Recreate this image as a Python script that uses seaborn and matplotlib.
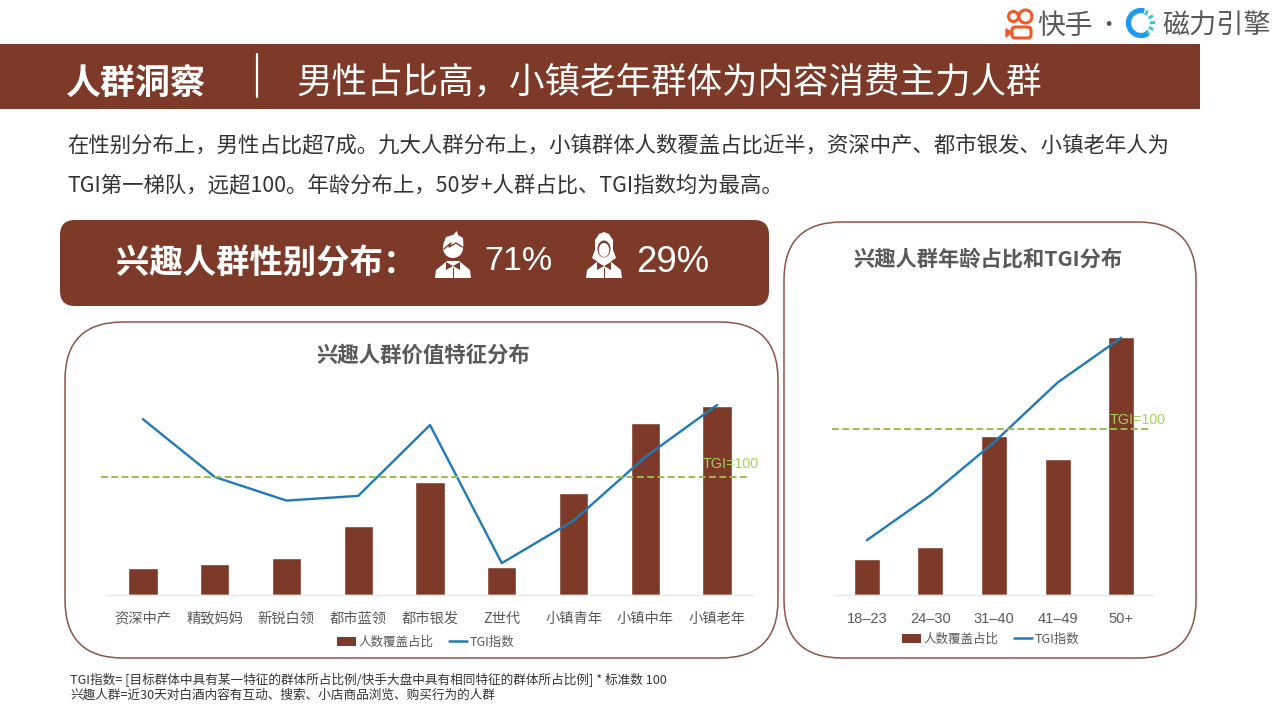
import numpy as np
import seaborn as sns
import matplotlib.pyplot as plt
from matplotlib.patches import FancyBboxPatch, Rectangle, Circle, Arc, Patch, Polygon, Ellipse
from matplotlib.lines import Line2D

# 数据
value_cats = ["资深中产", "精致妈妈", "新锐白领", "都市蓝领", "都市银发", "Z世代", "小镇青年", "小镇中年", "小镇老年"]
value_share = [3.5, 4.0, 4.8, 9.0, 14.7, 3.7, 13.3, 22.3, 24.5]
value_tgi = [149, 100, 80, 84, 144, 27, 63, 117, 161]

age_cats = ["18–23", "24–30", "31–40", "41–49", "50+"]
age_share = [5.7, 7.6, 24.9, 21.3, 40.5]
age_tgi = [33, 60, 92, 128, 155]

BROWN = "#7E3A29"
BLUE = "#1F7AB5"
GREEN = "#9DBB4F"
GREEN_TXT = "#A5D15C"
GRAY = "#595959"
CJK = ["Noto Sans CJK SC", "DejaVu Sans"]
LATIN = ["Liberation Sans", "Noto Sans CJK SC"]

sns.set_style("white")
plt.rcParams["font.family"] = CJK

W, H = 1280, 720
fig = plt.figure(figsize=(12.8, 7.2), dpi=100, facecolor="white")

# 背景层，用像素坐标
bg = fig.add_axes([0, 0, 1, 1])
bg.set_xlim(0, W)
bg.set_ylim(H, 0)
bg.axis("off")


def round_box(x0, y0, x1, y1, r, **kw):
    bg.add_patch(FancyBboxPatch((x0 + r, y0 + r), x1 - x0 - 2 * r, y1 - y0 - 2 * r,
                                boxstyle=f"round,pad={r},rounding_size={r}", **kw))


def person_body(cx):
    # 身体和领结
    bg.add_patch(Polygon([(cx - 18, 278), (cx - 17, 270), (cx - 6, 261), (cx + 6, 261), (cx + 17, 270), (cx + 18, 278)],
                         fc="white", ec="none"))
    bg.add_patch(Polygon([(cx - 7, 262), (cx, 266), (cx + 7, 262), (cx + 7, 270), (cx, 266), (cx - 7, 270)],
                         fc=BROWN, ec="none"))
    bg.plot([cx, cx], [268, 278], color=BROWN, lw=0.8)


# 顶部标题条
bg.add_patch(Rectangle((0, 44), 1200, 64.5, fc=BROWN, ec="none"))
bg.text(65, 83, "人群洞察", color="white", fontsize=25.2, fontweight="bold", va="center")
bg.plot([257, 257], [54, 97], color="white", lw=1.6)
bg.text(296, 83, "男性占比高，小镇老年群体为内容消费主力人群", color="white", fontsize=25.6, va="center")

# 说明文字
bg.text(67, 145, "在性别分布上，男性占比超7成。九大人群分布上，小镇群体人数覆盖占比近半，资深中产、都市银发、小镇老年人为",
        color="#333333", fontsize=15.4, va="center")
bg.text(67, 185, "TGI第一梯队，远超100。年龄分布上，50岁+人群占比、TGI指数均为最高。",
        color="#333333", fontsize=15.4, va="center")

# 性别分布条
round_box(60, 220, 769, 306, 15, fc=BROWN, ec="none")
bg.text(116, 264, "兴趣人群性别分布：", color="white", fontsize=24, fontweight="bold", va="center")
bg.text(484, 262, "71%", color="white", fontsize=24.5, va="center", family=LATIN)
bg.text(636, 262, "29%", color="white", fontsize=26.3, va="center", family=LATIN)

# 男性图标
bg.add_patch(Circle((453, 248), 10, fc="white", ec="none"))
bg.add_patch(Polygon([(443, 245), (446, 237), (453, 235), (457, 231), (458, 235), (463, 238), (463.5, 246)],
                     fc="white", ec="none"))
bg.plot([444, 451, 449, 456, 462], [249, 243, 247, 243, 247], color=BROWN, lw=1)
person_body(453)

# 女性图标
bg.add_patch(Polygon([(592, 258), (595, 250), (595, 240), (599, 234), (604, 232), (609, 234), (613, 240),
                      (613, 250), (616, 258), (610, 262), (598, 262)], fc="white", ec="none"))
bg.add_patch(Ellipse((604, 249), 13, 17, fc=BROWN, ec="none"))
bg.add_patch(Ellipse((604, 250), 10.5, 14, fc="white", ec="none"))
person_body(604)

# 两个圆角框
round_box(65, 322, 778, 658, 58, fc="white", ec="#8E5546", lw=1.1)
round_box(784, 222, 1196, 658, 58, fc="white", ec="#8E5546", lw=1.1)
bg.text(423.5, 355, "兴趣人群价值特征分布", color=GRAY, fontsize=15.4, fontweight="bold", ha="center", va="center")
bg.text(988, 259, "兴趣人群年龄占比和TGI分布", color=GRAY, fontsize=15.3, fontweight="bold", ha="center", va="center")

# 脚注
bg.text(70, 680, "TGI指数= [目标群体中具有某一特征的群体所占比例/快手大盘中具有相同特征的群体所占比例] * 标准数 100",
        color="#333333", fontsize=9.1, va="center")
bg.text(70, 695, "兴趣人群=近30天对白酒内容有互动、搜索、小店商品浏览、购买行为的人群",
        color="#333333", fontsize=9.1, va="center")

# 快手 logo
ORANGE = "#F0592A"
bg.add_patch(Circle((1013.5, 16.5), 5, fc="none", ec=ORANGE, lw=2.2))
bg.add_patch(Circle((1025.5, 16.5), 6.5, fc="none", ec=ORANGE, lw=2.2))
round_box(1012, 27, 1031, 38, 3, fc="none", ec=ORANGE, lw=2.2)
bg.add_patch(Polygon([(1012, 32), (1006, 29), (1006, 37)], fc=ORANGE, ec=ORANGE, lw=1))
bg.text(1037, 26, "快手", color=GRAY, fontsize=20, va="center")
bg.text(1108, 26, "·", color=GRAY, fontsize=16, ha="center", va="center")

# 磁力引擎 logo
bg.add_patch(Arc((1141, 23), 25, 25, theta1=55, theta2=285, color="#1E9BEF", lw=3.8))
for ang in [-62, -32, -2, 28, 55]:
    t = np.deg2rad(ang)
    bg.plot([1141 + 9 * np.cos(t), 1141 + 14 * np.cos(t)], [23 + 9 * np.sin(t), 23 + 14 * np.sin(t)],
            color="#35C4C9", lw=2, solid_capstyle="butt")
bg.text(1162, 26, "磁力引擎", color=GRAY, fontsize=19.5, va="center")


def combo_chart(left, right, top, bottom, cats, share, tgi, y_top, tgi_top, bar_w,
                line_x, label_x, label_y, legend_center, tick_family, tick_size):
    ax = fig.add_axes([left / W, 1 - bottom / H, (right - left) / W, (bottom - top) / H])
    ax.patch.set_alpha(0)
    sns.barplot(x=cats, y=share, color=BROWN, saturation=1, width=bar_w, ax=ax)
    ax.set_ylim(0, y_top)
    ax.set_xlim(-0.5, len(cats) - 0.5)
    ax.set_yticks([])
    ax.set_ylabel("")
    sns.despine(ax=ax, left=True)
    ax.spines["bottom"].set_color("#E6E6E6")
    ax.spines["bottom"].set_linewidth(1)
    ax.tick_params(axis="x", length=0, pad=12)
    for lab in ax.get_xticklabels():
        lab.set_color(GRAY)
        lab.set_fontsize(tick_size)
        lab.set_family(tick_family)

    tw = ax.twinx()
    tw.patch.set_alpha(0)
    sns.lineplot(x=np.arange(len(cats)), y=tgi, color=BLUE, lw=1.7, ax=tw)
    tw.set_ylim(0, tgi_top)
    tw.set_xlim(-0.5, len(cats) - 0.5)
    tw.set_yticks([])
    tw.set_ylabel("")
    sns.despine(ax=tw, left=True, right=True, bottom=True)

    # TGI=100 参考线
    tw.plot(line_x, [100, 100], color=GREEN, lw=1.4, ls=(0, (3.5, 1.8)), clip_on=False)
    tw.text(label_x, label_y, "TGI=100", color=GREEN_TXT, fontsize=10.3, ha="left", va="center",
            family=LATIN, transform=bg.transData, clip_on=False)

    handles = [Patch(fc=BROWN, ec="none"), Line2D([0], [0], color=BLUE, lw=1.8)]
    fig.legend(handles, ["人数覆盖占比", "TGI指数"], loc="center", ncols=2, frameon=False,
               bbox_to_anchor=(legend_center[0] / W, 1 - legend_center[1] / H),
               fontsize=9, labelcolor=GRAY, handlelength=1.45, handletextpad=0.25,
               columnspacing=1.2, borderpad=0)
    return ax, tw


combo_chart(107, 753, 394, 595, value_cats, value_share, value_tgi, 26.1, 170.3, 0.41,
            [-0.58, 8.46], 703, 464, (426, 642), CJK, 10.3)
combo_chart(835, 1153, 314, 595, age_cats, age_share, age_tgi, 44.1, 169.3, 0.41,
            [-0.54, 4.47], 1110, 420, (991, 639), LATIN, 10.5)

fig.savefig("out.png", dpi=100)
